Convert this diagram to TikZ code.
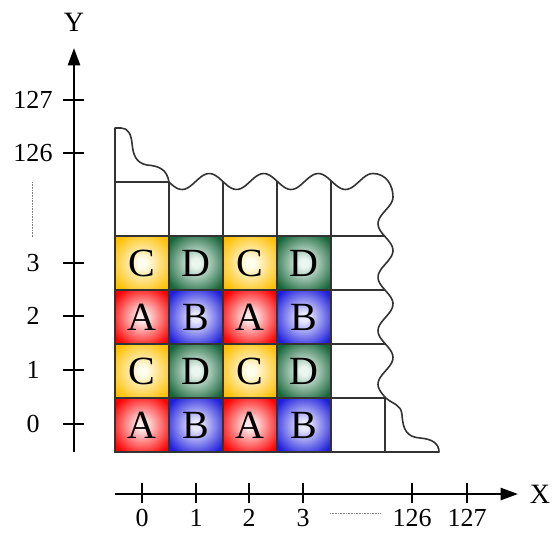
\documentclass[tikz,border=0pt]{standalone}
\usepackage{fontspec}
\setmainfont{Liberation Serif}
\usetikzlibrary{arrows.meta}
\definecolor{Aout}{HTML}{FF0000}\definecolor{Ain}{HTML}{FFEAEA}
\definecolor{Bout}{HTML}{1E1EDC}\definecolor{Bin}{HTML}{EAEAFF}
\definecolor{Cout}{HTML}{FFBF00}\definecolor{Cin}{HTML}{FFFDEE}
\definecolor{Dout}{HTML}{17663A}\definecolor{Din}{HTML}{EAF6F0}
\definecolor{gridc}{HTML}{333333}
\pgfdeclareradialshading{shA}{\pgfpoint{0bp}{0bp}}{color(0bp)=(Ain); color(4bp)=(Ain); color(31bp)=(Aout); color(50bp)=(Aout)}
\pgfdeclareradialshading{shB}{\pgfpoint{0bp}{0bp}}{color(0bp)=(Bin); color(4bp)=(Bin); color(31bp)=(Bout); color(50bp)=(Bout)}
\pgfdeclareradialshading{shC}{\pgfpoint{0bp}{0bp}}{color(0bp)=(Cin); color(4bp)=(Cin); color(31bp)=(Cout); color(50bp)=(Cout)}
\pgfdeclareradialshading{shD}{\pgfpoint{0bp}{0bp}}{color(0bp)=(Din); color(4bp)=(Din); color(31bp)=(Dout); color(50bp)=(Dout)}
\def\cellsoutline{(115,452) -- (115,128) -- (121,128)
  .. controls (128,128) and (131,134) .. (132,143)
  .. controls (133,155) and (136,163) .. (147,165)
  .. controls (160,166) and (167,170) .. (169,182)
  -- plot[domain=169:373, samples=90] (\x,{181.5+8*cos((\x-182)/54.5*360)})
  .. controls (386,173.5) and (393,185) .. (393,197)
  -- plot[variable=\t, domain=197:398, samples=90] ({385.5+7.5*cos((\t-197)/53.5*360)},\t)
  .. controls (394,405) and (401,404) .. (402,415)
  .. controls (403,430) and (407,437) .. (420,438)
  .. controls (433,439) and (439,444) .. (439,452) -- cycle}
\tikzset{
  gridline/.style={draw=gridc, line width=1.2pt},
  cell/.style={draw=gridc, line width=1.2pt, minimum size=40.5pt, inner sep=0pt,
    font=\fontsize{30}{30}\selectfont, text=black},
  cellA/.style={cell, shading=shA},
  cellB/.style={cell, shading=shB},
  cellC/.style={cell, shading=shC},
  cellD/.style={cell, shading=shD},
  axis/.style={line width=1.9pt, -{Triangle[length=13pt, width=9pt]}},
  tick/.style={line width=1.1pt},
  lab/.style={font=\fontsize{19.5}{20}\selectfont, inner sep=0pt},
  axlab/.style={font=\fontsize{21}{21}\selectfont, inner sep=0pt},
  dots/.style={draw=gray, line width=0.6pt, dash pattern=on 0.6pt off 0.6pt}
}
\begin{document}
\begin{tikzpicture}[x=0.75pt, y=-0.75pt]
\useasboundingbox (0,0) rectangle (559,533);
% outline and grid
\fill[white] \cellsoutline;
\begin{scope}
  \clip \cellsoutline;
  \foreach \cx in {169,223,277,331} \draw[gridline] (\cx,165) -- (\cx,452);
  \foreach \ry in {236,290,344} \draw[gridline] (115,\ry) -- (400,\ry);
\end{scope}
\draw[gridline] (115,182) -- (169,182);
\draw[gridline] (115,398) -- (385,398);
\draw[gridline] (385,398) -- (385,452);
% coloured cells
\node[cellC] (c11) at (142,263) {C};
\node[cellD] (c12) at (196,263) {D};
\node[cellC] (c13) at (250,263) {C};
\node[cellD] (c14) at (304,263) {D};
\node[cellA] (c21) at (142,317) {A};
\node[cellB] (c22) at (196,317) {B};
\node[cellA] (c23) at (250,317) {A};
\node[cellB] (c24) at (304,317) {B};
\node[cellC] (c31) at (142,371) {C};
\node[cellD] (c32) at (196,371) {D};
\node[cellC] (c33) at (250,371) {C};
\node[cellD] (c34) at (304,371) {D};
\node[cellA] (c41) at (142,425) {A};
\node[cellB] (c42) at (196,425) {B};
\node[cellA] (c43) at (250,425) {A};
\node[cellB] (c44) at (304,425) {B};
\draw[gridline, line join=round] \cellsoutline;
% Y axis
\coordinate (yb) at (74,452);
\coordinate (yt) at (74,48);
\draw[axis] (yb) -- (yt);
\node[axlab] (ylab) at (74,22) {Y};
\foreach \yy/\tx [count=\i] in {424/0,370/1,316/2,263/3,153/126,100/127}{
  \coordinate (ytl\i) at (63,\yy);
  \coordinate (ytr\i) at (84,\yy);
  \draw[tick] (ytl\i) -- (ytr\i);
  \node[lab] (yl\i) at (33,\yy) {\tx};
}
\coordinate (ydt) at (32,182);
\coordinate (ydb) at (32,237);
\draw[dots] (ydt) -- (ydb);
% X axis
\coordinate (xl) at (115,494);
\coordinate (xr) at (518,494);
\draw[axis] (xl) -- (xr);
\node[axlab] (xlab) at (540,494) {X};
\foreach \xx/\tx [count=\i] in {142/0,196/1,249/2,303/3,412/126,467/127}{
  \coordinate (xtt\i) at (\xx,483);
  \coordinate (xtb\i) at (\xx,503);
  \draw[tick] (xtt\i) -- (xtb\i);
  \node[lab] (xl\i) at (\xx,518) {\tx};
}
\coordinate (xdl) at (330,513);
\coordinate (xdr) at (380,513);
\draw[dots] (xdl) -- (xdr);
\end{tikzpicture}
\end{document}
